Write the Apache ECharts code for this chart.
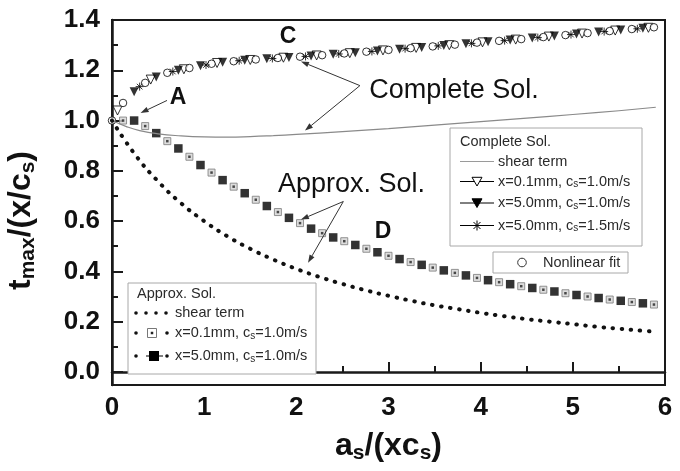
<!DOCTYPE html>
<html>
<head>
<meta charset="utf-8">
<script src="https://cdn.jsdelivr.net/npm/echarts@6/dist/echarts.min.js"></script>
<style>
  html, body { margin: 0; padding: 0; background: #fff; }
  #chart { width: 680px; height: 471px; }
</style>
</head>
<body>
<div id="chart"></div>
<script>
const FONT = '"Liberation Sans", Arial, sans-serif'

// Complete Sol. - shear term (thin grey line)
const compShearX = [0, 0.15, 0.3, 0.5, 0.75, 1.0, 1.25, 1.5, 1.75, 2.0, 2.5, 3.0, 3.5, 4.0, 4.5, 5.0, 5.5, 5.9]
const compShearY = [1.0, 0.977, 0.96, 0.947, 0.939, 0.935, 0.934, 0.936, 0.94, 0.945, 0.956, 0.968, 0.982, 0.996, 1.01, 1.024, 1.039, 1.053]

// Approx. Sol. - shear term (dotted)
const apxShearX = [0, 0.25, 0.5, 0.75, 1.0, 1.25, 1.5, 1.75, 2.0, 2.25, 2.5, 2.75, 3.0, 3.25, 3.5, 3.75, 4.0, 4.25, 4.5, 4.75, 5.0, 5.25, 5.5, 5.75, 5.9]
const apxShearY = [1.0, 0.865, 0.758, 0.671, 0.6, 0.54, 0.49, 0.447, 0.41, 0.378, 0.35, 0.325, 0.303, 0.283, 0.265, 0.25, 0.235, 0.222, 0.21, 0.2, 0.19, 0.18, 0.172, 0.164, 0.16]

// Approx. Sol. x=5.0mm, cs=1.0m/s (filled squares)
const apx50X = [0.24, 0.48, 0.72, 0.96, 1.2, 1.44, 1.68, 1.92, 2.16, 2.4, 2.64, 2.88, 3.12, 3.36, 3.6, 3.84, 4.08, 4.32, 4.56, 4.8, 5.04, 5.28, 5.52, 5.76]
const apx50Y = [1.0, 0.95, 0.889, 0.823, 0.763, 0.711, 0.66, 0.613, 0.57, 0.535, 0.505, 0.476, 0.449, 0.426, 0.404, 0.384, 0.365, 0.349, 0.334, 0.32, 0.306, 0.294, 0.283, 0.273]

// Approx. Sol. x=0.1mm, cs=1.0m/s (open squares)
const apx01X = [0.12, 0.36, 0.6, 0.84, 1.08, 1.32, 1.56, 1.8, 2.04, 2.28, 2.52, 2.76, 3.0, 3.24, 3.48, 3.72, 3.96, 4.2, 4.44, 4.68, 4.92, 5.16, 5.4, 5.64, 5.88]
const apx01Y = [1.0, 0.978, 0.918, 0.856, 0.793, 0.737, 0.685, 0.636, 0.592, 0.552, 0.52, 0.49, 0.462, 0.437, 0.415, 0.394, 0.374, 0.357, 0.341, 0.327, 0.313, 0.3, 0.288, 0.278, 0.268]

// Complete Sol. x=5.0mm, cs=1.0m/s (filled triangles)
const cmp50X = [0.24, 0.48, 0.72, 0.96, 1.2, 1.44, 1.68, 1.92, 2.16, 2.4, 2.64, 2.88, 3.12, 3.36, 3.6, 3.84, 4.08, 4.32, 4.56, 4.8, 5.04, 5.28, 5.52, 5.76]
const cmp50Y = [1.115, 1.173, 1.2, 1.218, 1.232, 1.24, 1.246, 1.251, 1.257, 1.264, 1.27, 1.277, 1.284, 1.291, 1.299, 1.306, 1.313, 1.32, 1.328, 1.336, 1.344, 1.352, 1.36, 1.367]

// Complete Sol. x=0.1mm, cs=1.0m/s (open triangles)
const cmp01X = [0.06, 0.42, 0.78, 1.14, 1.5, 1.86, 2.22, 2.58, 2.94, 3.3, 3.66, 4.02, 4.38, 4.74, 5.1, 5.46, 5.82]
const cmp01Y = [1.04, 1.163, 1.204, 1.229, 1.241, 1.25, 1.259, 1.268, 1.279, 1.289, 1.3, 1.311, 1.322, 1.334, 1.346, 1.358, 1.369]

// Complete Sol. x=5.0mm, cs=1.5m/s (asterisks)
const cmp15X = [0.3, 0.66, 1.02, 1.38, 1.74, 2.1, 2.46, 2.82, 3.18, 3.54, 3.9, 4.26, 4.62, 4.98, 5.34, 5.7]
const cmp15Y = [1.135, 1.195, 1.221, 1.238, 1.247, 1.255, 1.265, 1.275, 1.286, 1.297, 1.307, 1.318, 1.33, 1.342, 1.354, 1.365]

// Nonlinear fit (open circles)
const fitX = [0, 0.12, 0.36, 0.6, 0.84, 1.08, 1.32, 1.56, 1.8, 2.04, 2.28, 2.52, 2.76, 3.0, 3.24, 3.48, 3.72, 3.96, 4.2, 4.44, 4.68, 4.92, 5.16, 5.4, 5.64, 5.88]
const fitY = [1.0, 1.07, 1.15, 1.19, 1.209, 1.226, 1.236, 1.243, 1.249, 1.254, 1.26, 1.267, 1.274, 1.281, 1.288, 1.295, 1.302, 1.31, 1.317, 1.324, 1.332, 1.34, 1.348, 1.356, 1.364, 1.371]

// axis ticks
const yLabelTicks = [0, 0.2, 0.4, 0.6, 0.8, 1.0, 1.2, 1.4]
const yMinorTicks = [0.1, 0.3, 0.5, 0.7, 0.9, 1.1, 1.3]

const pairs = (xs, ys) => xs.map((x, i) => [x, ys[i]])

const chart = echarts.init(document.getElementById('chart'))

const nameRich = {
  m: { fontSize: 32, fontWeight: 'bold', fontFamily: FONT, color: '#111', lineHeight: 36 },
  s: { fontSize: 21, fontWeight: 'bold', fontFamily: FONT, color: '#111', lineHeight: 10, verticalAlign: 'bottom' }
}
const tickLabel = { fontSize: 26, fontWeight: 'bold', fontFamily: FONT, color: '#111' }

const scatter = (name, xs, ys, symbol, size, itemStyle, extra) => Object.assign({
  name, type: 'scatter', data: pairs(xs, ys), symbol, symbolSize: size, itemStyle,
  silent: true, emphasis: { disabled: true }
}, extra || {})

const option = {
  animation: false,
  grid: {
    left: 112, right: 15, top: 20, bottom: 86, outerBoundsMode: 'none',
    show: true, borderColor: '#1a1a1a', borderWidth: 2
  },
  xAxis: {
    type: 'value', min: 0, max: 6, interval: 1,
    axisLine: { lineStyle: { color: '#1a1a1a', width: 2.5 } },
    axisTick: { inside: true, length: 10, lineStyle: { color: '#1a1a1a', width: 2 } },
    minorTick: { show: true, splitNumber: 2, length: 6, lineStyle: { color: '#1a1a1a', width: 2 } },
    axisLabel: Object.assign({ margin: 10 }, tickLabel),
    splitLine: { show: false },
    name: '{m|a}{s|s}{m|/(xc}{s|s}{m|)}',
    nameLocation: 'middle', nameGap: 43,
    nameTextStyle: { rich: nameRich }
  },
  yAxis: [{
    type: 'value', min: -0.052, max: 1.4, position: 'left',
    axisLine: { show: true, lineStyle: { color: '#1a1a1a', width: 2.5 } },
    axisTick: { show: true, inside: true, length: 11, customValues: yLabelTicks, lineStyle: { color: '#1a1a1a', width: 2 } },
    axisLabel: Object.assign({ margin: 12, customValues: yLabelTicks, formatter: v => v.toFixed(1) }, tickLabel),
    splitLine: { show: false },
    name: '{m|t}{s|max}{m|/(x/c}{s|s}{m|)}',
    nameLocation: 'middle', nameGap: 73,
    nameTextStyle: { rich: nameRich, padding: [0, 36, 0, 0] }
  }, {
    type: 'value', min: -0.052, max: 1.4, position: 'left', offset: 0,
    axisLine: { show: false },
    axisTick: { show: true, inside: true, length: 6, customValues: yMinorTicks, lineStyle: { color: '#1a1a1a', width: 2 } },
    axisLabel: { show: false },
    splitLine: { show: false }
  }],
  series: [
    {
      name: 'Complete shear term', type: 'line', data: pairs(compShearX, compShearY), smooth: true,
      showSymbol: false, silent: true, lineStyle: { color: '#8a8a8a', width: 1.2 }
    },
    {
      name: 'Approx shear term', type: 'line', data: pairs(apxShearX, apxShearY), smooth: true,
      showSymbol: false, silent: true,
      lineStyle: { color: '#111', width: 4, type: [0.5, 8.6], cap: 'round' }
    },
    scatter('Approx x=0.1mm', apx01X, apx01Y, 'rect', 7, { color: '#d4d4d4', borderColor: '#7a7a7a', borderWidth: 1 }),
    scatter('Approx x=0.1mm dot', apx01X, apx01Y, 'rect', 2.5, { color: '#222' }),
    scatter('Approx x=5.0mm', apx50X, apx50Y, 'rect', 8.5, { color: '#000' }),
    scatter('Complete x=0.1mm', cmp01X, cmp01Y, 'triangle', 9, { color: '#fff', borderColor: '#000', borderWidth: 1 }, { symbolRotate: 180 }),
    scatter('Complete x=5.0mm', cmp50X, cmp50Y, 'triangle', 9, { color: '#000' }, { symbolRotate: 180 }),
    scatter('Nonlinear fit', fitX, fitY, 'circle', 7.5, { color: '#fff', borderColor: '#000', borderWidth: 1 }),
    scatter('Complete x=5.0mm cs=1.5', cmp15X, cmp15Y,
      'path://M5,0L5,10M0,5L10,5M1.5,1.5L8.5,8.5M8.5,1.5L1.5,8.5', 8,
      { color: 'rgba(0,0,0,0)', borderColor: '#000', borderWidth: 1 })
  ]
}
chart.setOption(option)

// annotations, placed in data space
const notes = {
  A: [0.716, 1.092], C: [1.91, 1.335], D: [2.94, 0.558],
  completeText: [2.79, 1.12], approxText: [1.80, 0.745],
  arrowA: [[0.597, 1.08], [0.31, 1.03]],
  completeApex: [2.69, 1.139], completeTips: [[2.05, 1.235], [2.094, 0.96]],
  approxApex: [2.51, 0.678], approxTips: [[2.05, 0.606], [2.127, 0.434]]
}

const px = p => chart.convertToPixel({ xAxisIndex: 0, yAxisIndex: 0 }, p)

function arrow (from, to) {
  const [x1, y1] = px(from)
  const [x2, y2] = px(to)
  const a = Math.atan2(y2 - y1, x2 - x1)
  const L = 8
  const W = 2.8
  const bx = x2 - L * Math.cos(a)
  const by = y2 - L * Math.sin(a)
  return [
    { type: 'line', shape: { x1, y1, x2: bx, y2: by }, style: { stroke: '#333', lineWidth: 1 } },
    {
      type: 'polygon',
      shape: { points: [[x2, y2], [bx - W * Math.sin(a), by + W * Math.cos(a)], [bx + W * Math.sin(a), by - W * Math.cos(a)]] },
      style: { fill: '#333' }
    }
  ]
}

function label (pos, text, size, weight, align) {
  const [x, y] = px(pos)
  return {
    type: 'text',
    style: {
      x, y, text, fill: '#111',
      font: `${weight} ${size}px ${FONT}`,
      textAlign: align, align, textVerticalAlign: 'middle', verticalAlign: 'middle'
    }
  }
}

// legend pieces (pixel layout)
const legendRich = {
  n: { fontSize: 14.5, fontFamily: FONT, fill: '#2a2a2a', color: '#2a2a2a', lineHeight: 16 },
  s: { fontSize: 10, fontFamily: FONT, fill: '#2a2a2a', color: '#2a2a2a', lineHeight: 5, verticalAlign: 'bottom' }
}
const ltext = (x, y, text) => ({
  type: 'text',
  style: { x, y, text, rich: legendRich, textAlign: 'left', align: 'left', textVerticalAlign: 'middle', verticalAlign: 'middle' }
})
const box = (x, y, w, h) => ({ type: 'rect', shape: { x, y, width: w, height: h }, style: { fill: '#fff', stroke: '#a8a8a8', lineWidth: 1 } })
const hline = (x1, x2, y, stroke) => ({ type: 'line', shape: { x1, y1: y, x2, y2: y }, style: { stroke, lineWidth: 1 } })
const triDown = (cx, cy, s, fill) => ({
  type: 'polygon',
  shape: { points: [[cx - s / 2, cy - s * 0.42], [cx + s / 2, cy - s * 0.42], [cx, cy + s * 0.45]] },
  style: { fill, stroke: '#000', lineWidth: 1 }
})
const star = (cx, cy, r) => [
  hline(cx - r, cx + r, cy, '#000'),
  { type: 'line', shape: { x1: cx, y1: cy - r, x2: cx, y2: cy + r }, style: { stroke: '#000', lineWidth: 1 } },
  { type: 'line', shape: { x1: cx - r * 0.7, y1: cy - r * 0.7, x2: cx + r * 0.7, y2: cy + r * 0.7 }, style: { stroke: '#000', lineWidth: 1 } },
  { type: 'line', shape: { x1: cx + r * 0.7, y1: cy - r * 0.7, x2: cx - r * 0.7, y2: cy + r * 0.7 }, style: { stroke: '#000', lineWidth: 1 } }
]
const dot = (cx, cy) => ({ type: 'circle', shape: { cx, cy, r: 1.8 }, style: { fill: '#111' } })
const sq = (cx, cy, s, fill, stroke) => ({ type: 'rect', shape: { x: cx - s / 2, y: cy - s / 2, width: s, height: s }, style: { fill, stroke, lineWidth: 1 } })

const legends = [
  box(450, 128, 192, 118),
  ltext(460, 142, '{n|Complete Sol.}'),
  hline(460, 494, 161.5, '#9a9a9a'), ltext(498, 161.5, '{n|shear term}'),
  hline(460, 494, 181.5, '#000'), triDown(477, 181.5, 10, '#fff'), ltext(498, 181.5, '{n|x=0.1mm, c}{s|s}{n|=1.0m/s}'),
  hline(460, 494, 203, '#000'), triDown(477, 203, 10, '#000'), ltext(498, 203, '{n|x=5.0mm, c}{s|s}{n|=1.0m/s}'),
  hline(460, 494, 225.5, '#000'), ...star(477, 225.5, 5), ltext(498, 225.5, '{n|x=5.0mm, c}{s|s}{n|=1.5m/s}'),

  box(493, 252, 135, 21),
  { type: 'circle', shape: { cx: 522, cy: 262.5, r: 4.3 }, style: { fill: '#fff', stroke: '#333', lineWidth: 1 } },
  ltext(543, 262.5, '{n|Nonlinear fit}'),

  box(128, 283, 188, 91),
  ltext(137, 293.5, '{n|Approx. Sol.}'),
  dot(136, 313), dot(146, 313), dot(156, 313), dot(166, 313), ltext(175, 313, '{n|shear term}'),
  dot(136, 333), sq(152, 333, 9, '#fff', '#777'), sq(152, 333, 2.5, '#222', null), dot(167, 333),
  ltext(175, 333, '{n|x=0.1mm, c}{s|s}{n|=1.0m/s}'),
  dot(136, 356), hline(146, 163, 356, '#000'), sq(154, 356, 10, '#000', null), dot(167, 356),
  ltext(175, 356, '{n|x=5.0mm, c}{s|s}{n|=1.0m/s}')
]

const graphics = [
  label(notes.A, 'A', 23, 'bold', 'center'),
  label(notes.C, 'C', 23, 'bold', 'center'),
  label(notes.D, 'D', 23, 'bold', 'center'),
  label(notes.completeText, 'Complete Sol.', 27, 'normal', 'left'),
  label(notes.approxText, 'Approx. Sol.', 27, 'normal', 'left'),
  ...arrow(notes.arrowA[0], notes.arrowA[1]),
  ...notes.completeTips.flatMap(t => arrow(notes.completeApex, t)),
  ...notes.approxTips.flatMap(t => arrow(notes.approxApex, t)),
  ...legends
]

chart.setOption({ graphic: { elements: graphics.map(g => Object.assign({ z: 100, silent: true }, g)) } })
</script>
</body>
</html>
